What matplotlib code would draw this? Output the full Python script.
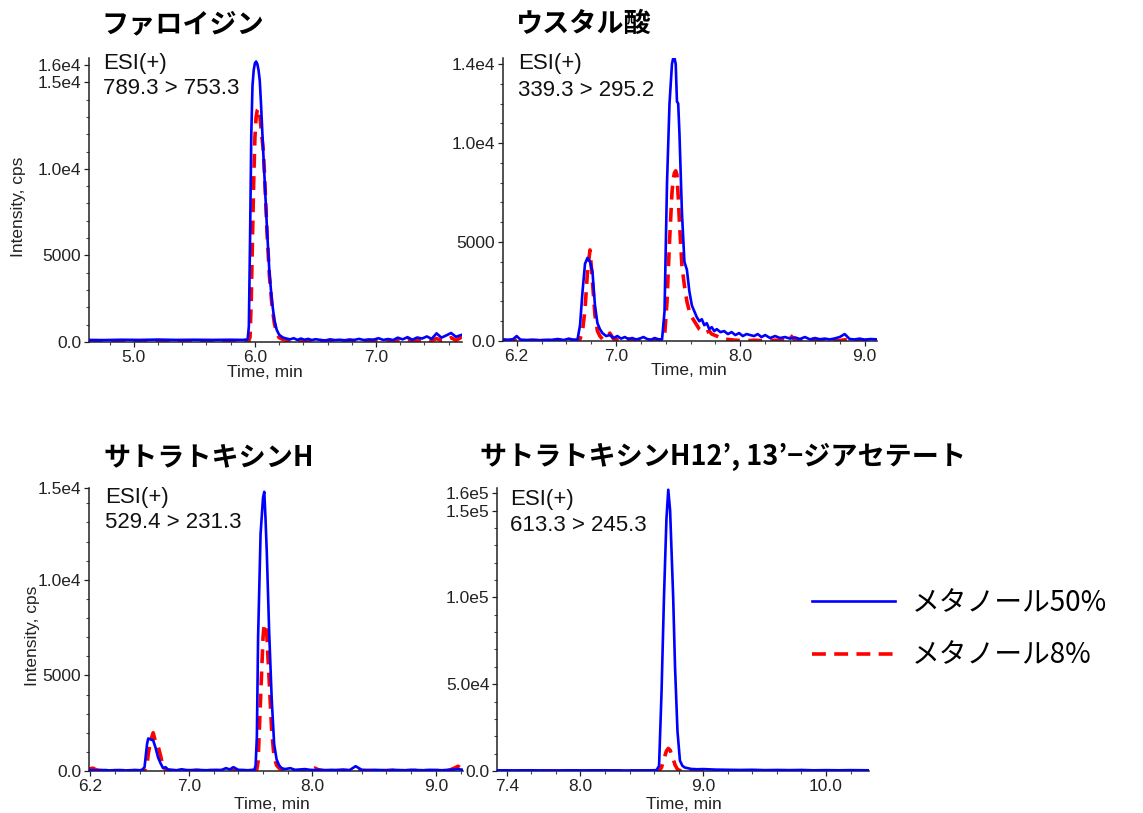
import matplotlib
matplotlib.use("Agg")
import matplotlib.pyplot as plt
from matplotlib.ticker import FixedLocator, FixedFormatter, MultipleLocator

plt.rcParams['font.family'] = ['Liberation Sans', 'Noto Sans CJK JP']
plt.rcParams['lines.scale_dashes'] = False

# ---------------- data ----------------
titles = ["ファロイジン", "ウスタル酸", "サトラトキシンH",
          "サトラトキシンH12’, 13’−ジアセテート"]
transitions = ["789.3 > 753.3", "339.3 > 295.2", "529.4 > 231.3", "613.3 > 245.3"]
series_names = ["メタノール50%", "メタノール8%"]

t_p1 = [4.63, 4.75, 4.90, 5.05, 5.20, 5.35, 5.50, 5.65, 5.80, 5.90,
        5.94, 5.95, 5.96, 5.97, 5.98, 5.99, 6.00, 6.01, 6.02, 6.03,
        6.04, 6.05, 6.06, 6.07, 6.08, 6.10, 6.12, 6.14, 6.16, 6.18,
        6.20, 6.23, 6.26, 6.29, 6.32, 6.35, 6.38, 6.41, 6.44, 6.47,
        6.50, 6.54, 6.58, 6.62, 6.66, 6.70, 6.74, 6.78, 6.82, 6.86,
        6.90, 6.94, 6.98, 7.02, 7.06, 7.10, 7.14, 7.18, 7.22, 7.26,
        7.30, 7.34, 7.38, 7.42, 7.46, 7.50, 7.54, 7.58, 7.62, 7.66,
        7.71]
blue_p1 = [120, 110, 130, 120, 140, 120, 130, 120, 130, 120,
           150, 900, 6000, 12000, 14800, 15700, 16100, 16200, 16050, 15700,
           15100, 13800, 12300, 10800, 9400, 6500, 4000, 2400, 1300, 700,
           420, 260, 200, 150, 220, 120, 200, 130, 180, 110,
           160, 120, 90, 150, 110, 130, 100, 140, 120, 180,
           110, 150, 130, 220, 120, 170, 110, 250, 150, 280,
           130, 260, 200, 320, 180, 500, 250, 380, 520, 300,
           420]
red_p1 = [40, 60, 30, 50, 40, 60, 30, 50, 40, 50,
          40, 60, 300, 2500, 6000, 9300, 11800, 13000, 13400, 13500,
          13100, 12400, 11700, 11000, 9600, 6300, 3800, 2200, 1100, 500,
          250, 150, 100, 60, 120, 40, 80, 50, 100, 30,
          60, 80, 40, 100, 50, 70, 40, 90, 60, 50,
          80, 40, 100, 60, 50, 120, 60, 80, 40, 150,
          60, 90, 50, 120, 70, 200, 80, 100, 250, 90,
          300]

t_p2 = [6.09, 6.13, 6.17, 6.20, 6.23, 6.28, 6.33, 6.38, 6.43, 6.48,
        6.53, 6.58, 6.62, 6.66, 6.69, 6.71, 6.73, 6.75, 6.77, 6.79,
        6.81, 6.83, 6.85, 6.87, 6.89, 6.92, 6.95, 6.98, 7.01, 7.04,
        7.07, 7.10, 7.13, 7.16, 7.19, 7.22, 7.25, 7.28, 7.31, 7.34,
        7.37, 7.39, 7.41, 7.43, 7.45, 7.46, 7.47, 7.48, 7.49, 7.50,
        7.51, 7.53, 7.55, 7.57, 7.59, 7.61, 7.63, 7.65, 7.67, 7.69,
        7.71, 7.73, 7.75, 7.77, 7.79, 7.81, 7.84, 7.87, 7.90, 7.93,
        7.96, 7.99, 8.02, 8.05, 8.08, 8.11, 8.14, 8.17, 8.20, 8.24,
        8.28, 8.32, 8.36, 8.40, 8.44, 8.48, 8.52, 8.56, 8.60, 8.64,
        8.68, 8.72, 8.76, 8.80, 8.84, 8.88, 8.92, 8.96, 9.00, 9.05,
        9.10]
blue_p2 = [80, 60, 90, 250, 70, 50, 60, 40, 60, 50,
           100, 50, 120, 60, 80, 800, 2500, 3900, 4200, 4000,
           3500, 1800, 900, 600, 400, 250, 300, 150, 250, 120,
           200, 100, 150, 80, 120, 200, 100, 60, 150, 90,
           80, 1500, 8000, 12000, 14000, 14300, 14300, 14000, 12100, 12000,
           10500, 6500, 4000, 3600, 2500, 1800, 1500, 1200, 1000, 1100,
           800, 900, 600, 700, 500, 600, 450, 500, 350, 450,
           300, 400, 250, 350, 300, 250, 350, 200, 300, 150,
           250, 150, 200, 120, 180, 100, 200, 80, 150, 90,
           120, 80, 130, 200, 350, 100, 80, 120, 70, 100,
           80]
red_p2 = [30, 20, 40, 30, 20, 10, 30, 20, 40, 20,
          30, 20, 40, 30, 20, 100, 500, 1600, 3500, 4600,
          3000, 1300, 500, 250, 100, 150, 400, 100, 60, 80,
          50, 100, 60, 40, 80, 120, 60, 40, 50, 30,
          20, 200, 2000, 5000, 7500, 8200, 8500, 8600, 8400, 7300,
          6000, 3800, 2800, 2000, 1500, 1200, 1000, 800, 600, 500,
          400, 450, 500, 350, 300, 250, 150, 100, 80, 60,
          40, 30, 50, 30, 20, 40, 30, 20, 30, 20,
          40, 30, 50, 300, 60, 30, 40, 20, 50, 30,
          20, 40, 30, 20, 60, 30, 20, 40, 30, 20,
          50]

t_p3 = [6.19, 6.22, 6.25, 6.28, 6.32, 6.36, 6.40, 6.44, 6.48, 6.52,
        6.56, 6.60, 6.62, 6.64, 6.66, 6.67, 6.69, 6.71, 6.73, 6.75,
        6.77, 6.79, 6.81, 6.83, 6.86, 6.90, 6.94, 6.98, 7.02, 7.06,
        7.10, 7.14, 7.18, 7.22, 7.26, 7.30, 7.33, 7.36, 7.40, 7.44,
        7.48, 7.51, 7.53, 7.54, 7.55, 7.56, 7.58, 7.60, 7.61, 7.62,
        7.63, 7.65, 7.67, 7.69, 7.71, 7.73, 7.75, 7.78, 7.82, 7.86,
        7.90, 7.94, 7.98, 8.02, 8.06, 8.10, 8.15, 8.20, 8.25, 8.30,
        8.35, 8.40, 8.45, 8.50, 8.55, 8.60, 8.65, 8.70, 8.75, 8.80,
        8.85, 8.90, 8.95, 9.00, 9.05, 9.10, 9.15, 9.18, 9.22]
blue_p3 = [40, 50, 30, 40, 50, 30, 40, 50, 30, 40,
           50, 40, 60, 200, 1400, 1700, 1650, 1600, 1200, 700,
           400, 150, 200, 80, 60, 40, 90, 50, 40, 60,
           50, 40, 50, 60, 40, 150, 80, 200, 60, 50,
           40, 60, 60, 300, 1800, 7000, 12400, 14300, 14600, 13200,
           11500, 7200, 3800, 1400, 600, 300, 150, 100, 150, 60,
           80, 100, 60, 50, 70, 40, 60, 50, 70, 40,
           250, 60, 40, 60, 50, 40, 60, 50, 40, 60,
           50, 40, 60, 50, 40, 60, 80, 100, 60]
red_p3 = [100, 150, 60, 30, 20, 10, 20, 10, 20, 10,
          20, 10, 20, 20, 300, 900, 1600, 2000, 1500, 1300,
          800, 200, 50, 30, 20, 10, 20, 10, 20, 30,
          20, 10, 20, 10, 30, 20, 10, 20, 10, 20,
          10, 20, 20, 20, 100, 500, 3800, 7000, 7700, 7600,
          7200, 4700, 2100, 700, 300, 150, 60, 30, 20, 10,
          20, 30, 20, 150, 30, 20, 10, 20, 30, 20,
          10, 20, 30, 20, 10, 20, 30, 20, 10, 20,
          30, 20, 10, 20, 30, 20, 150, 250, 50]

t_p4 = [7.32, 7.45, 7.60, 7.75, 7.90, 8.05, 8.20, 8.35, 8.50, 8.58,
        8.62, 8.64, 8.66, 8.68, 8.70, 8.715, 8.73, 8.755, 8.77, 8.79,
        8.81, 8.83, 8.85, 8.90, 8.95, 9.00, 9.10, 9.20, 9.30, 9.40,
        9.50, 9.60, 9.70, 9.80, 9.90, 10.00, 10.10, 10.20, 10.35]
blue_p4 = [400, 350, 400, 300, 400, 350, 400, 300, 350, 400,
           500, 3000, 45000, 100000, 145000, 162000, 150000, 100000, 60000, 23000,
           6000, 3000, 2000, 1200, 1000, 1100, 800, 700, 600, 700,
           500, 600, 500, 600, 400, 500, 400, 500, 400]
red_p4 = [0, 100, 0, 50, 0, 100, 0, 50, 0, 50,
          0, 200, 2000, 7000, 11500, 13000, 12000, 7000, 3500, 1000,
          200, 50, 0, 100, 0, 50, 0, 100, 0, 50,
          0, 100, 0, 50, 0, 100, 0, 50, 0]

x_ticks = [[5.0, 6.0, 7.0], [6.2, 7.0, 8.0, 9.0], [6.2, 7.0, 8.0, 9.0], [7.4, 8.0, 9.0, 10.0]]
x_ticklabels = [["5.0", "6.0", "7.0"], ["6.2", "7.0", "8.0", "9.0"],
                ["6.2", "7.0", "8.0", "9.0"], ["7.4", "8.0", "9.0", "10.0"]]
y_ticks = [[0, 5000, 10000, 15000, 16000], [0, 5000, 10000, 14000],
           [0, 5000, 10000, 14800], [0, 50000, 100000, 150000, 160000]]
y_ticklabels = [["0.0", "5000", "1.0e4", "1.5e4", "1.6e4"], ["0.0", "5000", "1.0e4", "1.4e4"],
                ["0.0", "5000", "1.0e4", "1.5e4"], ["0.0", "5.0e4", "1.0e5", "1.5e5", "1.6e5"]]

# ---------------- layout (pixels) ----------------
W, H = 1143, 813
fig = plt.figure(figsize=(W / 100, H / 100), dpi=100)

panels = [
    dict(box=(89, 462, 58, 342), xlim=(4.63, 7.71), ylim=16400, yminor=1000,
         t=t_p1, b=blue_p1, r=red_p1),
    dict(box=(503, 877, 58, 341), xlim=(6.09, 9.10), ylim=14300, yminor=1000,
         t=t_p2, b=blue_p2, r=red_p2),
    dict(box=(89, 463, 488, 771), xlim=(6.19, 9.22), ylim=14800, yminor=1000,
         t=t_p3, b=blue_p3, r=red_p3),
    dict(box=(497, 869, 488, 771), xlim=(7.32, 10.35), ylim=163000, yminor=10000,
         t=t_p4, b=blue_p4, r=red_p4),
]

BLUE = "#0000FF"
RED = "#FF0000"
handles = None
for i, p in enumerate(panels):
    x0, x1, top, bot = p["box"]
    ax = fig.add_axes([x0 / W, 1 - bot / H, (x1 - x0) / W, (bot - top) / H])
    lr, = ax.plot(p["t"], p["r"], color=RED, lw=2.6, dashes=(10, 6), zorder=2)
    lb, = ax.plot(p["t"], p["b"], color=BLUE, lw=1.9, zorder=3)
    if handles is None:
        handles = [lb, lr]
    ax.set_xlim(*p["xlim"])
    ax.set_ylim(0, p["ylim"])
    for s in ("top", "right"):
        ax.spines[s].set_visible(False)
    for s in ("left", "bottom"):
        ax.spines[s].set_linewidth(1.1)
        ax.spines[s].set_color("#222222")
    ax.xaxis.set_major_locator(FixedLocator(x_ticks[i]))
    ax.xaxis.set_major_formatter(FixedFormatter(x_ticklabels[i]))
    ax.yaxis.set_major_locator(FixedLocator(y_ticks[i]))
    ax.yaxis.set_major_formatter(FixedFormatter(y_ticklabels[i]))
    ax.xaxis.set_minor_locator(MultipleLocator(0.2))
    ax.yaxis.set_minor_locator(MultipleLocator(p["yminor"]))
    ax.tick_params(which="major", direction="out", length=3.5, width=0.9,
                   labelsize=12.5, colors="#222222", pad=2)
    ax.tick_params(which="minor", direction="out", length=2.5, width=0.8, colors="#444444")
    ax.patch.set_alpha(0)

    # title
    fig.text([101, 515, 103, 480][i] / W, 1 - [24, 24, 457, 457][i] / H, titles[i],
             family=["Noto Sans CJK JP", "DejaVu Sans"], fontweight="bold",
             fontsize=19.5, ha="left", va="center", color="black")
    # ESI annotation
    ex = [103, 518, 105, 510][i]
    ey = [63, 64, 497, 499][i]
    fig.text(ex / W, 1 - ey / H, "ESI(+)", fontsize=16, ha="left", va="center", color="#111111")
    fig.text(ex / W, 1 - (ey + 26) / H, transitions[i], fontsize=16, ha="left",
             va="center", color="#111111")
    # x label
    fig.text([265, 689, 272, 684][i] / W, 1 - [372, 370, 804, 804][i] / H, "Time, min",
             fontsize=12.5, ha="center", va="center", color="#222222")

# y labels (left panels only)
fig.text(19 / W, 1 - 207 / H, "Intensity, cps", rotation=90, fontsize=12.5,
         ha="center", va="center", color="#222222")
fig.text(32 / W, 1 - 636 / H, "Intensity, cps", rotation=90, fontsize=12.5,
         ha="center", va="center", color="#222222")

# legend
leg = fig.legend(handles, series_names, loc="upper left",
                 bbox_to_anchor=(812 / W, 1 - 588 / H), frameon=False,
                 prop={"family": ["Noto Sans CJK JP", "DejaVu Sans"], "size": 20},
                 handlelength=3.0, handletextpad=0.6, labelspacing=0.8,
                 borderpad=0, borderaxespad=0)

fig.savefig("out.png", dpi=100)
